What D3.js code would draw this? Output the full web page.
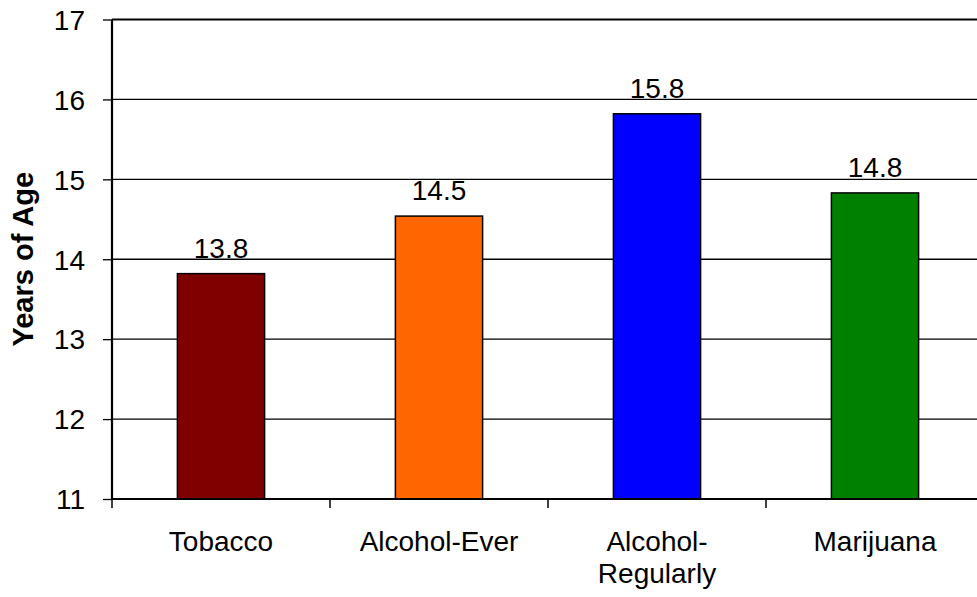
<!DOCTYPE html>
<html>
<head>
<meta charset="utf-8">
<script src="https://cdn.jsdelivr.net/npm/d3@7"></script>
<style>
  html, body { margin: 0; padding: 0; background: #fff; }
  svg { display: block; }
  text { font-family: Arial, "Liberation Sans", sans-serif; fill: #000; }
</style>
</head>
<body>
<div id="chart"></div>
<script>
// data
var categories = ["Tobacco", "Alcohol-Ever", "Alcohol-Regularly", "Marijuana"];
var tickLabels = [["Tobacco"], ["Alcohol-Ever"], ["Alcohol-", "Regularly"], ["Marijuana"]];
var ages = [13.82, 14.54, 15.82, 14.83];
var barColors = ["#800000", "#FF6600", "#0000FF", "#008000"];
var yTicks = [11, 12, 13, 14, 15, 16, 17];

var W = 977, H = 597;
// plot area runs past the right edge of the picture, as in the original
var margin = { top: 19.5, left: 112, bottom: 98 },
  plotW = 872,
  plotH = H - margin.top - margin.bottom;

var svg = d3.select("#chart")
  .append("svg")
  .attr("width", W)
  .attr("height", H);

var g = svg.append("g")
  .attr("transform", "translate(" + margin.left + "," + margin.top + ")");

var y = d3.scaleLinear()
  .domain([11, 17])
  .range([plotH, 0]);

// one slot per category, ticks sit on slot edges
var xSlot = d3.scaleBand()
  .domain(categories)
  .range([0, plotW]);

var x = d3.scaleBand()
  .domain(categories)
  .range([0, plotW])
  .paddingInner(0.6)
  .paddingOuter(0.3);

// y axis ticks + labels
var yAxis = g.append("g")
  .call(d3.axisLeft(y).tickValues(yTicks).tickSize(9).tickPadding(18).tickFormat(d3.format("d")));
yAxis.select(".domain").remove();
yAxis.selectAll(".tick line").attr("stroke", "#000").attr("stroke-width", 1.3);
yAxis.selectAll(".tick text")
  .style("font-size", "28px")
  .attr("dy", "0.35em");

// gridlines
g.append("g")
  .selectAll("line")
  .data(yTicks)
  .enter()
  .append("line")
  .attr("x1", 0)
  .attr("x2", plotW)
  .attr("y1", d => y(d))
  .attr("y2", d => y(d))
  .attr("stroke", "#000")
  .attr("stroke-width", d => d === 17 ? 2.2 : 1.3);

// bars
g.append("g")
  .selectAll("rect")
  .data(categories)
  .enter()
  .append("rect")
  .attr("x", d => x(d))
  .attr("width", x.bandwidth())
  .attr("y", (d, i) => y(ages[i]))
  .attr("height", (d, i) => y(11) - y(ages[i]))
  .attr("fill", (d, i) => barColors[i])
  .attr("stroke", "#000")
  .attr("stroke-width", 1.5);

// value labels
g.append("g")
  .selectAll("text")
  .data(categories)
  .enter()
  .append("text")
  .attr("x", d => x(d) + x.bandwidth() / 2)
  .attr("y", (d, i) => y(ages[i]) - 16)
  .attr("text-anchor", "middle")
  .style("font-size", "28px")
  .text((d, i) => d3.format(".1f")(ages[i]));

// axis lines
g.append("line")
  .attr("x1", 0).attr("x2", 0)
  .attr("y1", y(17)).attr("y2", y(11))
  .attr("stroke", "#000").attr("stroke-width", 2.2);
g.append("line")
  .attr("x1", 0).attr("x2", plotW)
  .attr("y1", y(11)).attr("y2", y(11))
  .attr("stroke", "#000").attr("stroke-width", 2.2);

// x ticks on slot edges
var edges = categories.map(c => xSlot(c)).concat([plotW]);
g.append("g")
  .selectAll("line")
  .data(edges)
  .enter()
  .append("line")
  .attr("x1", d => d).attr("x2", d => d)
  .attr("y1", y(11)).attr("y2", y(11) + 9)
  .attr("stroke", "#000").attr("stroke-width", 1.5);

// category labels
var xl = g.append("g")
  .selectAll("text")
  .data(categories)
  .enter()
  .append("text")
  .attr("x", d => xSlot(d) + xSlot.bandwidth() / 2)
  .attr("y", y(11) + 52)
  .attr("text-anchor", "middle")
  .style("font-size", "28px");
xl.selectAll("tspan")
  .data((d, i) => tickLabels[i])
  .enter()
  .append("tspan")
  .attr("x", function () { return d3.select(this.parentNode).attr("x"); })
  .attr("dy", (d, i) => i === 0 ? 0 : 32)
  .text(d => d);

// y title
svg.append("text")
  .attr("transform", "translate(33," + (margin.top + y(14)) + ") rotate(-90)")
  .attr("text-anchor", "middle")
  .style("font-size", "29px")
  .style("font-weight", "bold")
  .text("Years of Age");
</script>
</body>
</html>
